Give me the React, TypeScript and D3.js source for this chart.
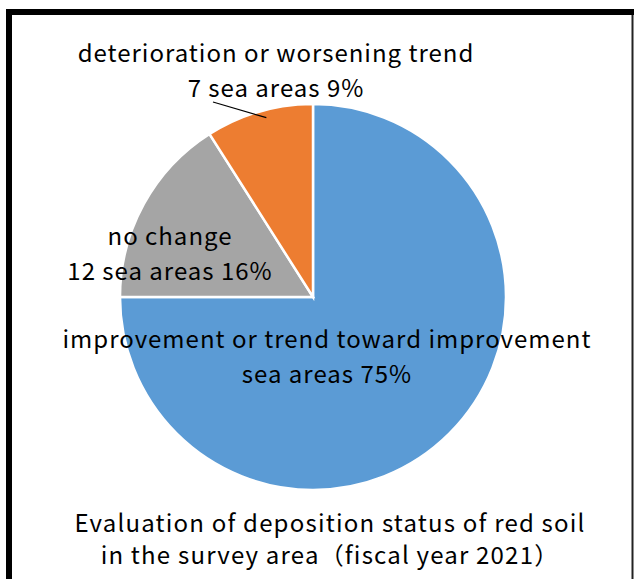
import * as d3 from "d3";

const WIDTH = 634;
const HEIGHT = 579;

const categories = ["improvement or trend toward improvement", "no change", "deterioration or worsening trend"];
const percents = [75, 16, 9];
const countLabels = ["sea areas 75%", "12 sea areas 16%", "7 sea areas 9%"];
const colors = ["#5B9BD5", "#A5A5A5", "#ED7D31"];
const titleLines = ["Evaluation of deposition status of red soil", "in the survey area\uFF08fiscal year 2021\uFF09"];

const CX = 313;
const CY = 297;
const R = 193;
const FONT = "'Noto Sans CJK JP', 'Noto Sans', sans-serif";

// label positions relative to the pie center
const labelPos = [
  { x: 14, y: 51 },
  { x: -143, y: -52 },
  { x: -37, y: -235 },
];

export default function App() {
  const pie = d3
    .pie<number>()
    .sort(null)
    .value((d) => d);
  const arcs = pie(percents);
  const arcGen = d3.arc<d3.PieArcDatum<number>>().innerRadius(0).outerRadius(R);

  // leader line for the small orange slice
  const orange = arcs[2];
  const mid = orange.startAngle + (orange.endAngle - orange.startAngle) * 0.55;
  const lx = Math.sin(mid) * R * 0.96;
  const ly = -Math.cos(mid) * R * 0.96;

  return (
    <svg width={WIDTH} height={HEIGHT} style={{ position: "absolute", left: 0, top: 0 }}>
      <rect x={0} y={0} width={WIDTH} height={HEIGHT} fill="#fff" />
      <line x1={6} x2={WIDTH} y1={12} y2={12} stroke="#000" strokeWidth={6} />
      <line x1={9} x2={9} y1={9} y2={HEIGHT} stroke="#000" strokeWidth={6} />
      <line x1={632.5} x2={632.5} y1={15} y2={HEIGHT} stroke="#222" strokeWidth={2} />
      <g transform={`translate(${CX},${CY})`}>
        {arcs.map((a, i) => (
          <path key={i} d={arcGen(a) || ""} fill={colors[i]} stroke="#fff" strokeWidth={2.5} />
        ))}
        <line x1={-100} y1={-195} x2={lx} y2={ly} stroke="#000" strokeWidth={1.2} />
        {categories.map((c, i) => (
          <text
            key={c}
            x={labelPos[i].x}
            y={labelPos[i].y}
            textAnchor="middle"
            fontFamily={FONT}
            fontSize={24}
            letterSpacing={1}
            fill="#000"
          >
            <tspan x={labelPos[i].x}>{c}</tspan>
            <tspan x={labelPos[i].x} dy={35}>
              {countLabels[i]}
            </tspan>
          </text>
        ))}
      </g>
      <text textAnchor="middle" fontFamily={FONT} fontSize={24} letterSpacing={1.2} fill="#000">
        {titleLines.map((t, i) => (
          <tspan key={i} x={330} y={532 + i * 32}>
            {t}
          </tspan>
        ))}
      </text>
    </svg>
  );
}
